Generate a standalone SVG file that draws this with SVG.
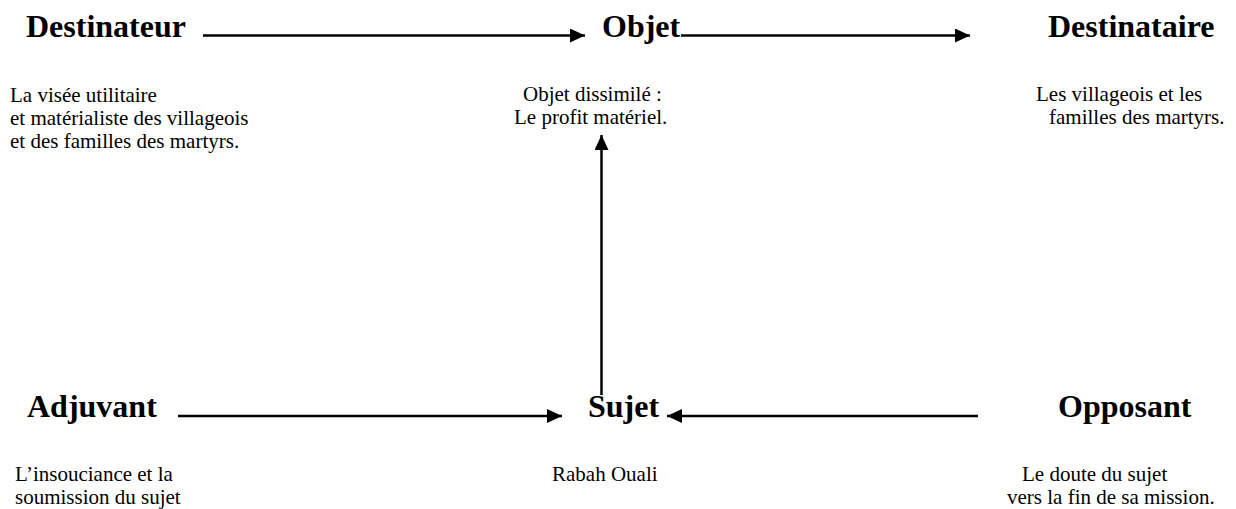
<svg xmlns="http://www.w3.org/2000/svg" width="1236" height="509" viewBox="0 0 1236 509">
<style>
.h{font-family:"Liberation Serif","Times New Roman",serif;font-weight:bold;font-size:32px;fill:#000}
.t{font-family:"Liberation Serif","Times New Roman",serif;font-size:21px;fill:#000}
.c{stroke:#000;stroke-width:2.5;fill:none}
</style>
<defs>
<marker id="ah" markerUnits="userSpaceOnUse" markerWidth="16" markerHeight="15" refX="15" refY="7" orient="auto">
<path d="M0,0 L15,7 L0,14 z" fill="#000"/>
</marker>
</defs>
<rect width="1236" height="509" fill="#fff"/>
<g id="connectors">
<line class="c" x1="203" y1="35.5" x2="585" y2="35.5" marker-end="url(#ah)"/>
<line class="c" x1="681" y1="35.5" x2="970" y2="35.5" marker-end="url(#ah)"/>
<line class="c" x1="601.5" y1="395" x2="601.5" y2="135" marker-end="url(#ah)"/>
<line class="c" x1="178" y1="416" x2="562" y2="416" marker-end="url(#ah)"/>
<line class="c" x1="978" y1="416" x2="667" y2="416" marker-end="url(#ah)"/>
</g>
<g id="destinateur">
<text class="h" x="26" y="37">Destinateur</text>
<text class="t" x="10" y="102">La visée utilitaire</text>
<text class="t" x="10" y="125">et matérialiste des villageois</text>
<text class="t" x="10" y="148">et des familles des martyrs.</text>
</g>
<g id="objet">
<text class="h" x="602" y="37">Objet</text>
<text class="t" x="523" y="101">Objet dissimilé :</text>
<text class="t" x="514" y="124">Le profit matériel.</text>
</g>
<g id="destinataire">
<text class="h" x="1048" y="37">Destinataire</text>
<text class="t" x="1036" y="101">Les villageois et les</text>
<text class="t" x="1049" y="124">familles des martyrs.</text>
</g>
<g id="adjuvant">
<text class="h" x="27" y="417">Adjuvant</text>
<text class="t" x="15" y="481">L’insouciance et la</text>
<text class="t" x="15" y="504">soumission du sujet</text>
</g>
<g id="sujet">
<text class="h" x="588" y="417">Sujet</text>
<text class="t" x="552" y="481">Rabah Ouali</text>
</g>
<g id="opposant">
<text class="h" x="1058" y="417">Opposant</text>
<text class="t" x="1022" y="481">Le doute du sujet</text>
<text class="t" x="1007" y="504">vers la fin de sa mission.</text>
</g>
</svg>
